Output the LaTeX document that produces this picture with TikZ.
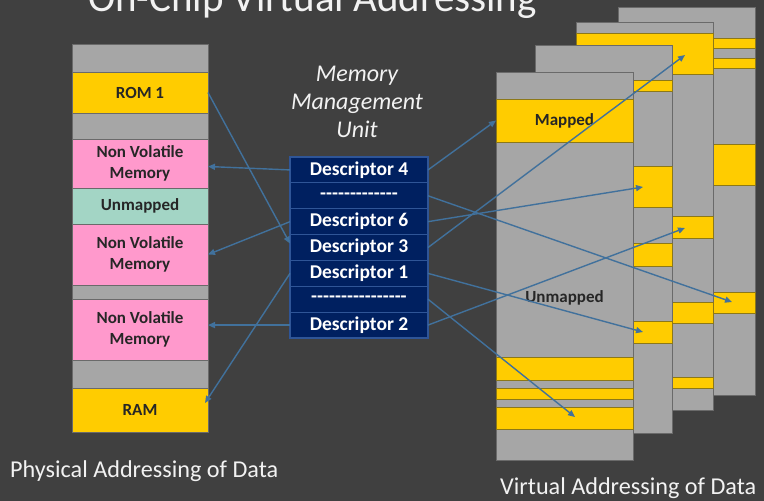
\documentclass[tikz,border=0pt]{standalone}
\usepackage{fontspec}
\setmainfont{Carlito}[Ligatures=TeXOff]
\usetikzlibrary{arrows.meta}

\definecolor{hintergrund}{HTML}{404040}
\definecolor{grau}{HTML}{A6A6A6}
\definecolor{graurand}{HTML}{6A6A6A}
\definecolor{gelb}{HTML}{FFCC00}
\definecolor{gelbrand}{HTML}{8C7818}
\definecolor{rosa}{HTML}{FF99CC}
\definecolor{mint}{HTML}{A3D5C5}
\definecolor{dunkelblau}{HTML}{002060}
\definecolor{blaurand}{HTML}{2F5597}
\definecolor{pfeilblau}{HTML}{41719C}
\definecolor{weiss}{HTML}{F2F2F2}

\tikzset{
    block/.style={draw=graurand, line width=0.8pt, minimum width=136pt, inner sep=0pt, outer sep=0pt,
        text=black!85, align=center, font=\fontsize{17}{20.5}\selectfont\bfseries},
    deskriptor/.style={draw=blaurand, fill=dunkelblau, line width=1.2pt, minimum width=138pt,
        minimum height=25.86pt, inner sep=0pt, outer sep=0pt, text=white, font=\fontsize{19.5}{22}\selectfont\bfseries},
    seite/.style={draw=graurand, fill=grau, line width=0.8pt},
    band/.style={draw=gelbrand, fill=gelb, line width=0.8pt},
    pfeil/.style={draw=pfeilblau, line width=1.4pt, -{Triangle[length=7pt,width=6pt]}},
    beschriftung/.style={text=weiss, inner sep=0pt, anchor=base west, font=\fontsize{24.2}{28}\selectfont},
}

\begin{document}
\begin{tikzpicture}[x=1pt, y=-1pt]
        \def\breite{137}
        \def\hoehe{388}
        \useasboundingbox (0,0) rectangle (764,501);
        \fill[hintergrund] (0,0) rectangle (764,501);
        \clip (0,0) rectangle (764,501);

        \node[anchor=base west, inner sep=0pt, text=weiss, font=\fontsize{41}{48}\selectfont] (titel) at (88,11) {On-Chip Virtual Addressing};

        % physischer Speicher
        \foreach \name/\von/\bis/\farbe/\inhalt in {leer1/44/72/grau/, rom/72/113/gelb/ROM 1, leer2/113/139/grau/,
            nvm1/139/188/rosa/Non Volatile\\Memory, frei/188/224/mint/Unmapped, nvm2/224/285/rosa/Non Volatile\\Memory,
            leer3/285/299/grau/, nvm3/299/360/rosa/Non Volatile\\Memory, leer4/360/388/grau/, ram/388/432/gelb/RAM}
        {
            \node[block, fill=\farbe, minimum height={(\bis-\von)*1pt}] (\name) at (140,{(\von+\bis)/2}) {\inhalt};
        }

        % MMU
        \node[align=center, text=weiss, font=\fontsize{24}{28}\selectfont\itshape] (mmu) at (357,102) {Memory\\Management\\Unit};
        \foreach \name/\inhalt [count=\i] in {d4/Descriptor 4, strich1/-------------, d6/Descriptor 6, d3/Descriptor 3,
            d1/Descriptor 1, strich2/----------------, d2/Descriptor 2}
        {
            \node[deskriptor] (\name) at (359,{157+25.86*(\i-0.5)}) {\inhalt};
        }

        % virtuelle Seiten, von hinten nach vorne
        \foreach \px/\py/\baender in {618/7/{38/48,58/68,144/185,292/313}, 576/22/{33/74,216/238,302/323,377/388},
            535/45/{80/91,166/207,243/266,321/343}, 496/72/{357/380,388/399,407/429}}
        {
            \draw[seite] (\px,\py) rectangle ++(\breite,\hoehe);
            \foreach \a/\b in \baender
                \draw[band] (\px,\a) rectangle (\px+\breite,\b);
        }
        \node[band, minimum width=137pt, minimum height=43pt, inner sep=0pt, outer sep=0pt, text=black!85,
            font=\fontsize{17}{20}\selectfont\bfseries] (mapped) at (564.5,120.5) {Mapped};
        \node[text=black!85, font=\fontsize{17}{20}\selectfont\bfseries] (unmapped) at (564.5,298) {Unmapped};

        % Ziele
        \coordinate (ziel1) at (732,302);
        \coordinate (ziel2) at (643,187);
        \coordinate (ziel3) at (685,55);
        \coordinate (ziel4) at (643,332);
        \coordinate (ziel5) at (575,417);
        \coordinate (ziel6) at (685,228);

        % Pfeile links
        \draw[pfeil] (rom.east) -- ([yshift=4pt]d3.west);
        \draw[pfeil] (d4.west) -- ([yshift=-3pt]nvm1.east);
        \draw[pfeil] (d6.west) -- (nvm2.east);
        \draw[pfeil] (d2.west) -- (d2.west -| nvm3.east);
        \draw[pfeil] (d1.west) -- ([xshift=-3pt,yshift=7pt]ram.east);
        % Pfeile rechts
        \draw[pfeil] (d4.east) -- (mapped.west);
        \draw[pfeil] (strich1.east) -- (ziel1);
        \draw[pfeil] (d6.east) -- (ziel2);
        \draw[pfeil] (d3.east) -- (ziel3);
        \draw[pfeil] (d1.east) -- (ziel4);
        \draw[pfeil] (strich2.east) -- (ziel5);
        \draw[pfeil] (d2.east) -- (ziel6);

        \node[beschriftung] (physisch) at (10,477) {Physical Addressing of Data};
        \node[beschriftung] (virtuell) at (500,494) {Virtual Addressing of Data};
\end{tikzpicture}
\end{document}
